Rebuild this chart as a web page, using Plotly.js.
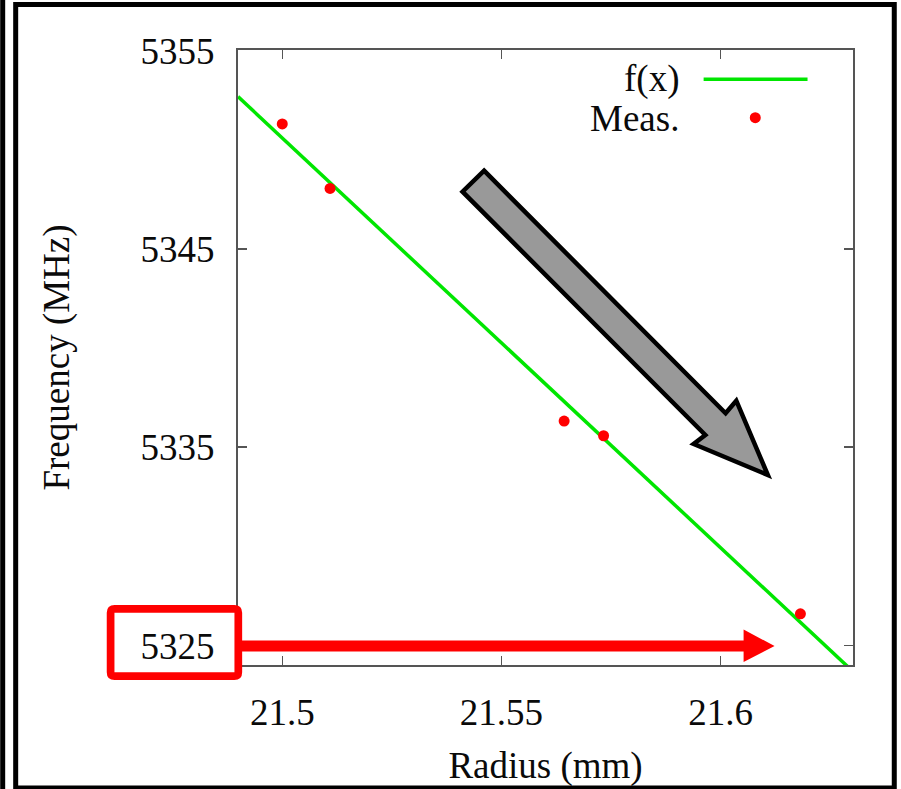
<!DOCTYPE html>
<html>
<head>
<meta charset="utf-8">
<script src="https://cdn.plot.ly/plotly-3.0.1.min.js"></script>
<style>
html,body{margin:0;padding:0;background:#fff;}
#chart{width:901px;height:789px;}
</style>
</head>
<body>
<div id="chart"></div>
<script>
// Data
var radius = [21.5, 21.5109, 21.5643, 21.5733, 21.6182];
var freq = [5351.30, 5348.05, 5336.32, 5335.58, 5326.60];
var fitRadius = [21.4899, 21.6302];
var fitFreq = [5352.68, 5323.69];
var xTickVals = [21.5, 21.55, 21.6];
var xTickText = ['21.5', '21.55', '21.6'];
var yTickVals = [5325, 5335, 5345, 5355];
var yTickText = ['5325', '5335', '5345', '5355'];
var legendNames = ['f(x)', 'Meas.'];

// Layout geometry (pixels)
var W = 901, H = 789;
var L = 238, R = 853.5, T = 50, B = 665;
function px(x){ return (x - L) / (R - L); }
function py(y){ return (B - y) / (B - T); }
function path(pts, close){
  var s = '';
  for (var i = 0; i < pts.length; i++) {
    s += (i === 0 ? 'M' : 'L') + px(pts[i][0]).toFixed(5) + ',' + py(pts[i][1]).toFixed(5) + ' ';
  }
  return s + (close ? 'Z' : '');
}

var FONT = "'Liberation Serif', 'Times New Roman', serif";
var green = '#00e600', red = '#ff0000', ink = '#0a0a0a';

var traces = [
  {x: fitRadius, y: fitFreq, mode: 'lines', name: legendNames[0],
   line: {color: green, width: 3.5}, showlegend: false, hoverinfo: 'skip'},
  {x: radius, y: freq, mode: 'markers', name: legendNames[1],
   marker: {color: red, size: 11}, showlegend: false}
];

var shapes = [];
// outer frame
shapes.push({type: 'rect', xref: 'paper', yref: 'paper', x0: px(0), x1: px(5), y0: py(0), y1: py(H),
  fillcolor: '#000', line: {width: 0}, layer: 'above'});
shapes.push({type: 'path', xref: 'paper', yref: 'paper',
  path: path([[15.5, 4.5], [894.8, 4.5], [894.8, 788], [15.5, 788]], true),
  line: {color: '#000', width: 5}, layer: 'above'});
// legend samples
shapes.push({type: 'line', xref: 'paper', yref: 'paper', x0: px(704), x1: px(808), y0: py(79.3), y1: py(79.3),
  line: {color: green, width: 3.5}, layer: 'above'});
shapes.push({type: 'circle', xref: 'paper', yref: 'paper', x0: px(750.2), x1: px(761.2), y0: py(112.2), y1: py(123.2),
  fillcolor: red, line: {width: 0}, layer: 'above'});
// gray arrow
shapes.push({type: 'path', xref: 'paper', yref: 'paper',
  path: path([[484.3, 170.7], [726, 413.3], [736.7, 400.7], [768.3, 475], [694, 444], [705.7, 435], [462.7, 191.7]], true),
  fillcolor: '#999999', line: {color: '#000', width: 4.5}, layer: 'above'});
// red box (rounded)
(function(){
  var x0 = 110.5, x1 = 238.3, y0 = 608.8, y1 = 676.2, r = 4;
  var s = 'M' + px(x0 + r) + ',' + py(y0) +
    ' L' + px(x1 - r) + ',' + py(y0) +
    ' Q' + px(x1) + ',' + py(y0) + ' ' + px(x1) + ',' + py(y0 + r) +
    ' L' + px(x1) + ',' + py(y1 - r) +
    ' Q' + px(x1) + ',' + py(y1) + ' ' + px(x1 - r) + ',' + py(y1) +
    ' L' + px(x0 + r) + ',' + py(y1) +
    ' Q' + px(x0) + ',' + py(y1) + ' ' + px(x0) + ',' + py(y1 - r) +
    ' L' + px(x0) + ',' + py(y0 + r) +
    ' Q' + px(x0) + ',' + py(y0) + ' ' + px(x0 + r) + ',' + py(y0) + ' Z';
  shapes.push({type: 'path', xref: 'paper', yref: 'paper', path: s,
    line: {color: red, width: 7.7}, layer: 'above'});
})();
// red arrow
shapes.push({type: 'path', xref: 'paper', yref: 'paper',
  path: path([[242, 640.5], [744, 640.5], [744, 629.5], [775, 646], [744, 662], [744, 651.5], [242, 651.5]], true),
  fillcolor: red, line: {width: 0}, layer: 'above'});

var annotations = [
  {xref: 'paper', yref: 'paper', x: px(681), y: py(79), xanchor: 'right', yanchor: 'middle',
   text: legendNames[0], showarrow: false, font: {family: FONT, size: 37, color: ink}},
  {xref: 'paper', yref: 'paper', x: px(681), y: py(118), xanchor: 'right', yanchor: 'middle',
   text: legendNames[1], showarrow: false, font: {family: FONT, size: 37, color: ink}}
];

var axisCommon = {
  showgrid: false, zeroline: false, showline: true, linecolor: '#555', linewidth: 2,
  mirror: 'ticks', ticks: 'inside', ticklen: 9, tickwidth: 1.5, tickcolor: '#555',
  tickfont: {family: FONT, size: 37, color: ink}, automargin: false
};

var layout = {
  width: W, height: H,
  margin: {l: L, r: W - R, t: T, b: H - B, pad: 0},
  paper_bgcolor: '#fff', plot_bgcolor: '#fff',
  showlegend: false,
  xaxis: Object.assign({}, axisCommon, {
    range: [21.4899, 21.6302], tickmode: 'array', tickvals: xTickVals, ticktext: xTickText,
    ticklabelstandoff: 14,
    title: {text: 'Radius (mm)', font: {family: FONT, size: 37, color: ink}, standoff: 20}
  }),
  yaxis: Object.assign({}, axisCommon, {
    range: [5324.02, 5355.03], tickmode: 'array', tickvals: yTickVals, ticktext: yTickText,
    ticklabelstandoff: 14,
    title: {text: 'Frequency (MHz)', font: {family: FONT, size: 37, color: ink}, standoff: 60}
  }),
  shapes: shapes,
  annotations: annotations
};

Plotly.newPlot('chart', traces, layout, {displayModeBar: false, staticPlot: true});
</script>
</body>
</html>
